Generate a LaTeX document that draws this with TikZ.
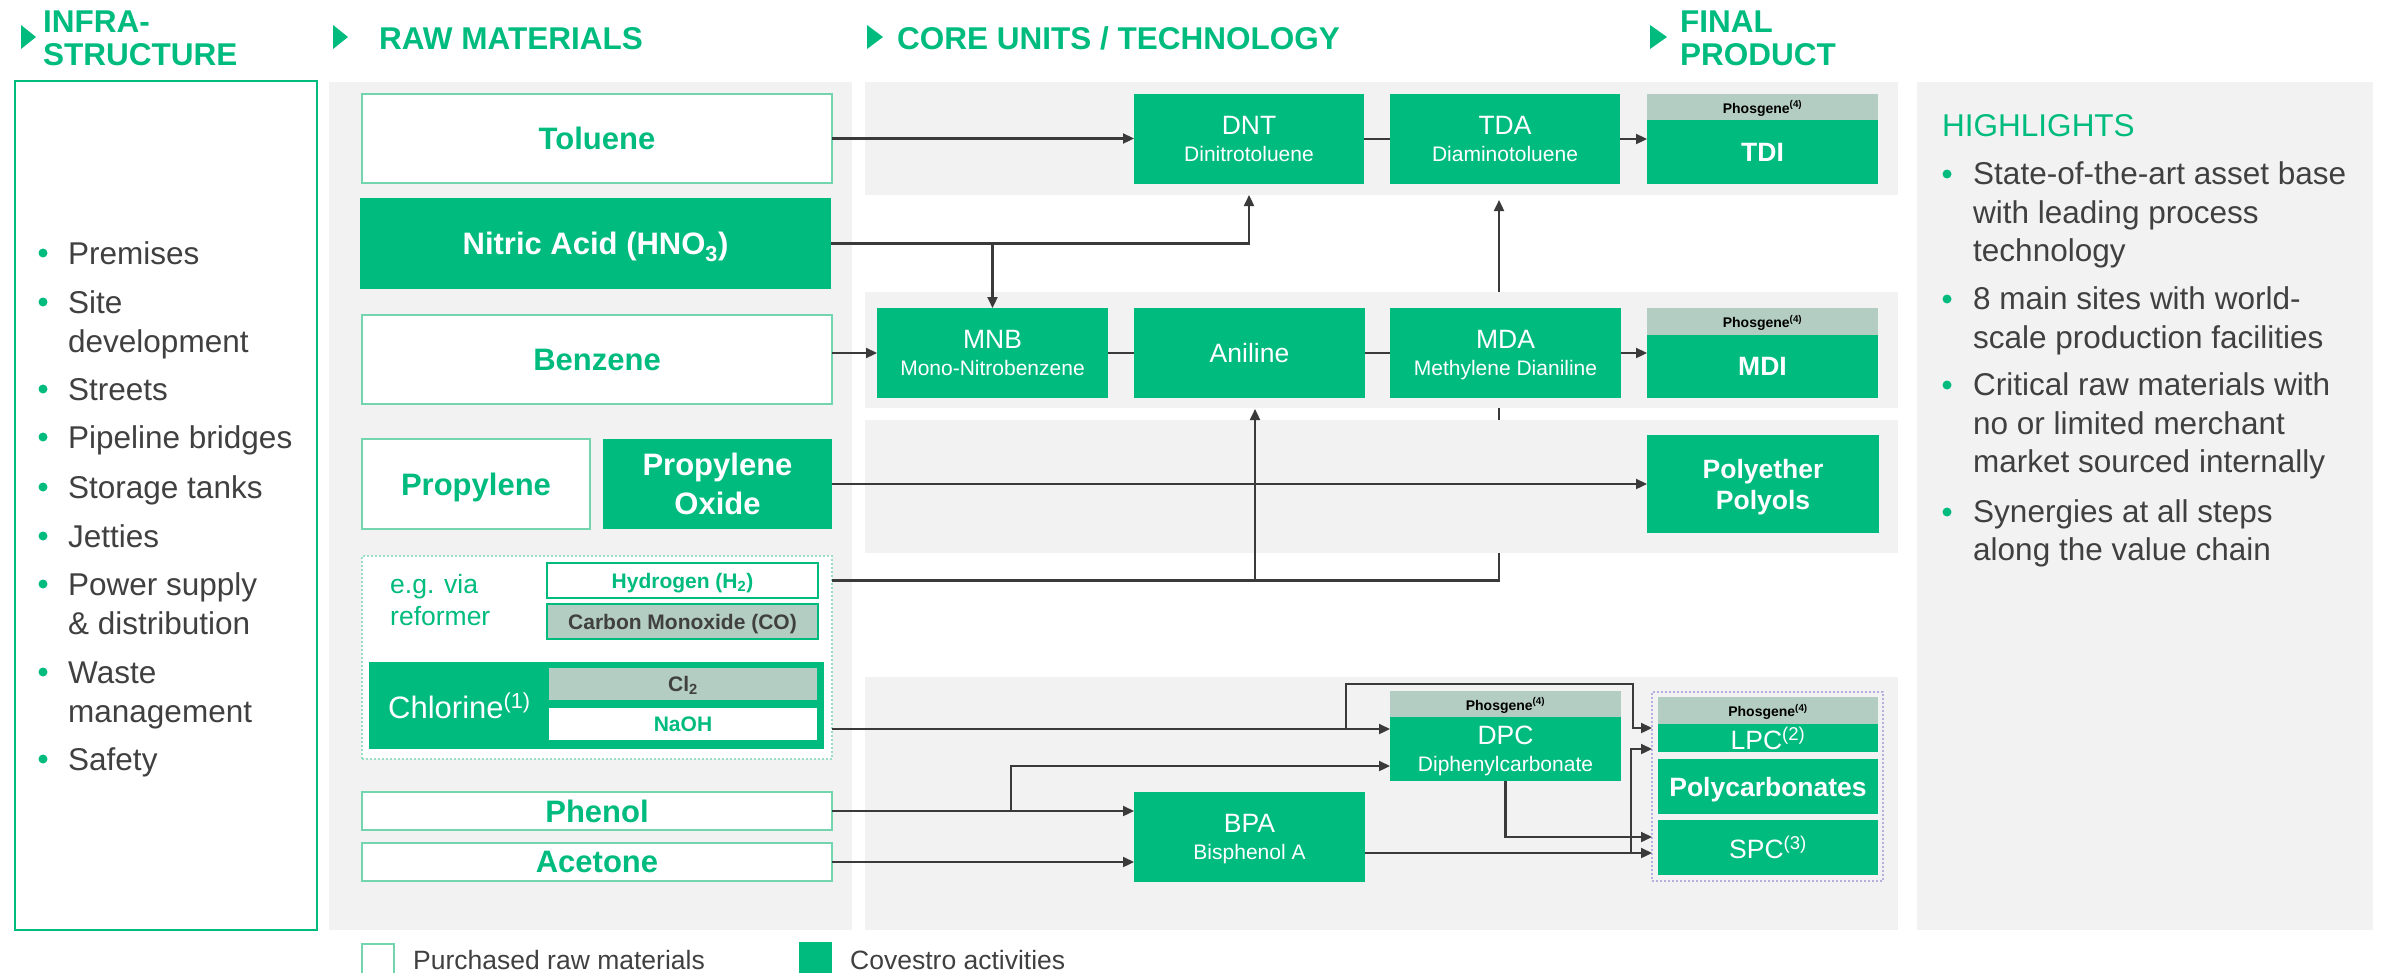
\documentclass[tikz,border=0pt]{standalone}
\usepackage{fontspec}
\setmainfont{Liberation Sans}
\usetikzlibrary{arrows.meta}
\definecolor{cgreen}{HTML}{00BB7E}
\definecolor{lgreen}{HTML}{72D5AE}
\definecolor{pgray}{HTML}{B3CDC3}
\definecolor{bgray}{HTML}{F2F2F2}
\definecolor{dgray}{HTML}{404040}
\definecolor{lncol}{HTML}{3A3A3A}
\definecolor{lav}{HTML}{B9AEE0}
\definecolor{dotg}{HTML}{9ADFC4}
\newcommand\fs[2]{\fontsize{#1}{#2}\selectfont}
\tikzset{
  rawbox/.style={draw=lgreen, line width=1.8pt, fill=white, text=cgreen, font=\fs{31}{38}\bfseries, inner sep=0pt, outer sep=0pt, align=center, text depth=0pt},
  covbox/.style={fill=cgreen, text=white, inner sep=0pt, outer sep=0pt, align=center, text depth=0pt},
  unit/.style={covbox, font=\fs{26.5}{27}},
  prod/.style={covbox, font=\fs{26.5}{31}\bfseries},
  phos/.style={fill=pgray, text=black, font=\fs{14}{16}\bfseries, inner sep=0pt, outer sep=0pt, text depth=0pt},
  smallbox/.style={draw=cgreen, line width=2pt, inner sep=0pt, outer sep=0pt, font=\fs{21}{24}\bfseries, text depth=0pt},
  hdr/.style={text=cgreen, font=\fs{31.5}{34}\bfseries, inner sep=0pt, anchor=base west},
  listtxt/.style={text=dgray, font=\fs{31.5}{39}, inner sep=0pt, anchor=base west},
  ln/.style={draw=lncol, line width=2.2pt},
  arr/.style={ln, -{Triangle[length=11pt,width=10pt]}},
}
\begin{document}
\begin{tikzpicture}[x=1pt,y=-1pt]
\useasboundingbox (0,0) rectangle (2384,972);
% headers
\fill[cgreen] (21,25) -- (36,37) -- (21,49) -- cycle;
\fill[cgreen] (333,25) -- (348,37) -- (333,49) -- cycle;
\fill[cgreen] (867,25) -- (883,37) -- (867,49) -- cycle;
\fill[cgreen] (1650,25) -- (1667,37) -- (1650,49) -- cycle;
\node[hdr] (hinf1) at (43,32) {INFRA-};
\node[hdr] (hinf2) at (43,65) {STRUCTURE};
\node[hdr] (hraw) at (379,49) {RAW MATERIALS};
\node[hdr] (hcore) at (897,49) {CORE UNITS / TECHNOLOGY};
\node[hdr] (hfin1) at (1680,32) {FINAL};
\node[hdr] (hfin2) at (1680,65) {PRODUCT};
% infrastructure
\draw[cgreen, line width=2pt, fill=white] (15,81) rectangle (317,930);
\foreach \y/\t [count=\i] in {264/Premises, 313/Site, 352/development, 400/Streets, 448/Pipeline bridges, 498/Storage tanks, 547/Jetties, 595/Power supply, 634/\& distribution, 683/Waste, 722/management, 770/Safety}
  \node[listtxt] (inf\i) at (68,\y) {\t};
\foreach \y in {264,313,400,448,498,547,595,683,770}
  \fill[cgreen] (43,\y-11) circle[radius=4.5pt];
% highlights
\fill[bgray] (1917,82) rectangle (2373,930);
\node[listtxt, text=cgreen] (hhl) at (1942,136) {HIGHLIGHTS};
\foreach \y/\t [count=\i] in {184/State-of-the-art asset base, 223/with leading process, 261/technology, 309/8 main sites with world-, 348/scale production facilities, 395/Critical raw materials with, 434/no or limited merchant, 472/market sourced internally, 522/Synergies at all steps, 560/along the value chain}
  \node[listtxt] (hl\i) at (1973,\y) {\t};
\foreach \y in {184,309,395,522}
  \fill[cgreen] (1947,\y-10) circle[radius=4.5pt];
% raw materials panel
\fill[bgray] (329,82) rectangle (852,930);
\node[rawbox, minimum width=470pt, minimum height=89pt] (tol) at (597,138.5) {Toluene};
\node[covbox, font=\fs{31}{38}\bfseries, minimum width=471pt, minimum height=91pt] (nit) at (595.5,243.5) {Nitric Acid (HNO\textsubscript{3})};
\node[rawbox, minimum width=470pt, minimum height=89pt] (ben) at (597,359.5) {Benzene};
\node[rawbox, minimum width=228pt, minimum height=90pt] (pro) at (476,484) {Propylene};
\node[covbox, font=\fs{31}{39}\bfseries, minimum width=229pt, minimum height=90pt] (pox) at (717.5,484) {Propylene\\Oxide};
\node[draw=dotg, fill=white, dash pattern=on 2pt off 2pt, line width=1.5pt, minimum width=470pt, minimum height=203pt, inner sep=0pt, outer sep=0pt] (grp) at (597,657.5) {};
\node[smallbox, fill=white, text=cgreen, minimum width=271pt, minimum height=35pt] (hyd) at (682.5,580.5) {Hydrogen (H\textsubscript{2})};
\node[smallbox, fill=pgray, text=dgray, minimum width=271pt, minimum height=35pt] (co) at (682.5,621.5) {Carbon Monoxide (CO)};
\node[text=cgreen, font=\fs{26.5}{32}, inner sep=0pt, anchor=base west] (egv) at (390,593) {e.g. via};
\node[text=cgreen, font=\fs{26.5}{32}, inner sep=0pt, anchor=base west] (egr) at (390,625) {reformer};
\node[covbox, minimum width=455pt, minimum height=87pt] (chl) at (596.5,705.5) {};
\node[text=white, font=\fs{31}{36}, inner sep=0pt, anchor=base west] (chlt) at (388,718) {Chlorine\textsuperscript{(1)}};
\node[fill=pgray, text=dgray, font=\fs{21}{24}\bfseries, inner sep=0pt, text depth=0pt, minimum width=268pt, minimum height=32pt] (cl2) at (683,684) {Cl\textsubscript{2}};
\node[fill=white, text=cgreen, font=\fs{21}{24}\bfseries, inner sep=0pt, text depth=0pt, minimum width=268pt, minimum height=32pt] (naoh) at (683,724) {NaOH};
\node[rawbox, minimum width=470pt, minimum height=38pt] (phe) at (597,811) {Phenol};
\node[rawbox, minimum width=470pt, minimum height=38pt] (ace) at (597,862) {Acetone};
% legend
\node[draw=lgreen, line width=1.8pt, fill=white, minimum width=32pt, minimum height=32pt, inner sep=0pt] (legw) at (378,960) {};
\node[listtxt, font=\fs{26.5}{30}] (legwt) at (413,969) {Purchased raw materials};
\node[fill=cgreen, minimum width=33pt, minimum height=32pt, inner sep=0pt] (legg) at (815.5,958) {};
\node[listtxt, font=\fs{26.5}{30}] (leggt) at (850,969) {Covestro activities};
% coordinates
\coordinate (dntin) at (1249,195);
\coordinate (tdain) at (1499,200);
\coordinate (anin) at (1255,409);
\coordinate (dpcin1) at (1390,729);
\coordinate (nb1) at (1346,684);
\coordinate (nb2) at (1633,684);
\coordinate (lpcin1) at (1652,728);
\coordinate (lpcin2) at (1652,749);
\coordinate (spcin1) at (1652,837);
\coordinate (spcin2) at (1652,853);
\coordinate (pb) at (1011,766);
\coordinate (bb) at (1631,853);
% line hidden behind bands
\draw[arr] (hyd.east -| grp.east) -| (tdain);
% core bands
\fill[bgray] (865,82) rectangle (1898,195);
\fill[bgray] (865,292) rectangle (1898,408);
\fill[bgray] (865,420) rectangle (1898,553);
\fill[bgray] (865,677) rectangle (1898,930);
% core nodes
\node[unit, minimum width=230pt, minimum height=90pt] (dnt) at (1249,139) {DNT\\{\fs{21}{27}Dinitrotoluene}};
\node[unit, minimum width=230pt, minimum height=90pt] (tda) at (1505,139) {TDA\\{\fs{21}{27}Diaminotoluene}};
\node[phos, minimum width=231pt, minimum height=26pt] (tdiph) at (1762.5,107) {Phosgene\textsuperscript{(4)}};
\node[prod, minimum width=231pt, minimum height=64pt] (tdi) at (1762.5,152) {TDI};
\node[unit, minimum width=231pt, minimum height=90pt] (mnb) at (992.5,353) {MNB\\{\fs{21}{27}Mono-Nitrobenzene}};
\node[unit, minimum width=231pt, minimum height=90pt] (ani) at (1249.5,353) {Aniline};
\node[unit, minimum width=231pt, minimum height=90pt] (mda) at (1505.5,353) {MDA\\{\fs{21}{27}Methylene Dianiline}};
\node[phos, minimum width=231pt, minimum height=27pt] (mdiph) at (1762.5,321.5) {Phosgene\textsuperscript{(4)}};
\node[prod, minimum width=231pt, minimum height=63pt] (mdi) at (1762.5,366.5) {MDI};
\node[prod, minimum width=232pt, minimum height=98pt] (ppo) at (1763,484) {Polyether\\Polyols};
\node[phos, minimum width=231pt, minimum height=26pt] (dpcph) at (1505.5,704) {Phosgene\textsuperscript{(4)}};
\node[unit, minimum width=231pt, minimum height=64pt] (dpc) at (1505.5,749) {DPC\\{\fs{21}{27}Diphenylcarbonate}};
\node[unit, minimum width=231pt, minimum height=90pt] (bpa) at (1249.5,837) {BPA\\{\fs{21}{27}Bisphenol A}};
\node[draw=lav, dash pattern=on 2pt off 2pt, line width=1.5pt, minimum width=231pt, minimum height=189pt, inner sep=0pt, outer sep=0pt] (pcg) at (1767.5,786.5) {};
\node[phos, minimum width=220pt, minimum height=27pt] (pcph) at (1768,710.5) {Phosgene\textsuperscript{(4)}};
\node[unit, minimum width=220pt, minimum height=28pt] (lpc) at (1768,738) {LPC\textsuperscript{(2)}};
\node[prod, minimum width=220pt, minimum height=55pt] (pc) at (1768,786.5) {Polycarbonates};
\node[unit, minimum width=220pt, minimum height=55pt] (spc) at (1768,847.5) {SPC\textsuperscript{(3)}};
% connectors
\draw[arr] (tol.east) -- (tol.east -| dnt.west);
\draw[ln] (dnt.east) -- (tda.west);
\draw[arr] (tda.east) -- (tda.east -| tdi.west);
\draw[arr] (nit.east) -| (dntin);
\draw[arr] (nit.east -| mnb.north) -- (mnb.north);
\draw[arr] (ben.east |- mnb.west) -- (mnb.west);
\draw[ln] (mnb.east) -- (ani.west);
\draw[ln] (ani.east) -- (mda.west);
\draw[arr] (mda.east) -- (mda.east -| mdi.west);
\draw[arr] (pox.east) -- (ppo.west);
\draw[arr] (hyd.east -| anin) -- (anin);
\draw[arr] (grp.east |- dpcin1) -- (dpcin1);
\draw[arr] (dpcin1 -| nb1) -- (nb1) -- (nb2) |- (lpcin1);
\draw[arr] (phe.east) -- (phe.east -| bpa.west);
\draw[arr] (phe.east -| pb) -- (pb) -- (pb -| dpc.west);
\draw[arr] (ace.east) -- (ace.east -| bpa.west);
\draw[arr] (dpc.south) |- (spcin1);
\draw[arr] (bpa.east |- spcin2) -- (spcin2);
\draw[arr] (bb) |- (lpcin2);
\end{tikzpicture}
\end{document}
